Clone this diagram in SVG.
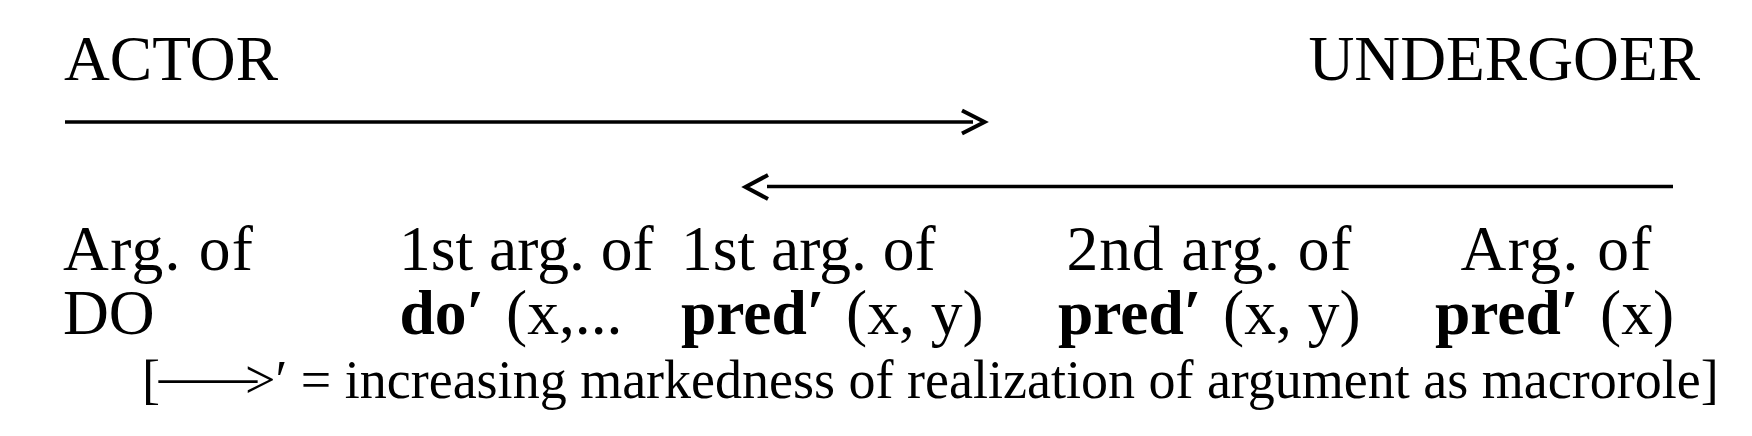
<svg xmlns="http://www.w3.org/2000/svg" width="1752" height="436" viewBox="0 0 1752 436">
<style>
text { font-family: "Liberation Serif", "Times New Roman", serif; fill: #000; }
.m { font-size: 63.5px; }
.s { font-size: 54px; }
.b { font-weight: bold; }
.ln { stroke: #000; stroke-width: 3.6; fill: none; }
.hd { stroke: #000; stroke-width: 4; fill: none; stroke-linejoin: miter; stroke-linecap: butt; }
</style>
<rect width="1752" height="436" fill="#fff"/>
<g id="actor"><text class="m" x="64" y="80">ACTOR</text></g>
<g id="undergoer"><text class="m" x="1308.5" y="80">UNDERGOER</text></g>
<g id="connectors">
  <line class="ln" x1="65" y1="122" x2="973" y2="122"/>
  <polyline class="hd" points="962,110.5 984.5,122 962,133.5"/>
  <line class="ln" x1="767" y1="186.5" x2="1673" y2="186.5"/>
  <polyline class="hd" points="768,175 745.5,187 768,199"/>
</g>
<g id="col1">
  <text class="m" x="63" y="270" textLength="190" lengthAdjust="spacing">Arg. of</text>
  <text class="m" x="63" y="334">DO</text>
</g>
<g id="col2">
  <text class="m" x="399" y="270">1st arg. of</text>
  <text class="m" y="334"><tspan class="b" x="399.5">do′</tspan><tspan x="506">(x,...</tspan></text>
</g>
<g id="col3">
  <text class="m" x="681" y="270">1st arg. of</text>
  <text class="m" y="334"><tspan class="b" x="681">pred′</tspan><tspan x="846">(x, y)</tspan></text>
</g>
<g id="col4">
  <text class="m" x="1066.5" y="270" textLength="285" lengthAdjust="spacing">2nd arg. of</text>
  <text class="m" y="334"><tspan class="b" x="1058">pred′</tspan><tspan x="1223">(x, y)</tspan></text>
</g>
<g id="col5">
  <text class="m" x="1460.5" y="270" textLength="191" lengthAdjust="spacing">Arg. of</text>
  <text class="m" y="334"><tspan class="b" x="1435">pred′</tspan><tspan x="1600">(x)</tspan></text>
</g>
<g id="legend">
  <text class="s" x="142" y="397.5">[</text>
  <text class="s" x="159" y="394" textLength="98" lengthAdjust="spacingAndGlyphs">—</text>
  <text class="s" x="245" y="397.5">&gt;′ = increasing markedness of realization of argument as macrorole]</text>
</g>
</svg>
